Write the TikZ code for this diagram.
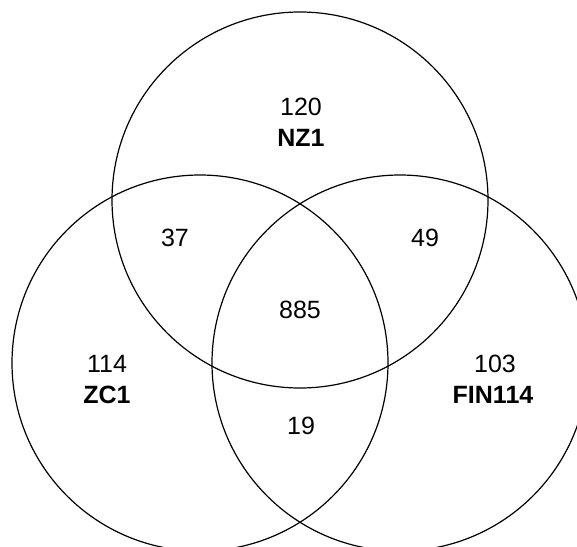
\documentclass[tikz,border=0pt]{standalone}
\usepackage{fontspec}
\setmainfont{Liberation Sans}
\begin{document}
\begin{tikzpicture}[x=1pt,y=-1pt,
  setcircle/.style={circle,draw=black,line width=1.2pt,minimum size=376pt,inner sep=0pt},
  countlabel/.style={font=\fontsize{25}{29}\selectfont,inner sep=0pt,anchor=center},
  namelabel/.style={font=\fontsize{25}{29}\selectfont\bfseries,inner sep=0pt,anchor=center}]
\useasboundingbox (0,0) rectangle (577,546);
\clip (0,0) rectangle (577,546);
\node[setcircle] (nz) at (300,200) {};
\node[setcircle] (zc) at (200,363) {};
\node[setcircle] (fin) at (400,363) {};
\node[countlabel] (n120) at (301,107) {120};
\node[namelabel] (lnz) at (301,138) {NZ1};
\node[countlabel] (n37) at (175,238) {37};
\node[countlabel] (n49) at (425,238) {49};
\node[countlabel] (n885) at (300,310) {885};
\node[countlabel] (n114) at (107,364) {114};
\node[namelabel] (lzc) at (107,395) {ZC1};
\node[countlabel] (n103) at (495,364) {103};
\node[namelabel] (lfin) at (493,395) {FIN114};
\node[countlabel] (n19) at (301,426) {19};
\end{tikzpicture}
\end{document}
